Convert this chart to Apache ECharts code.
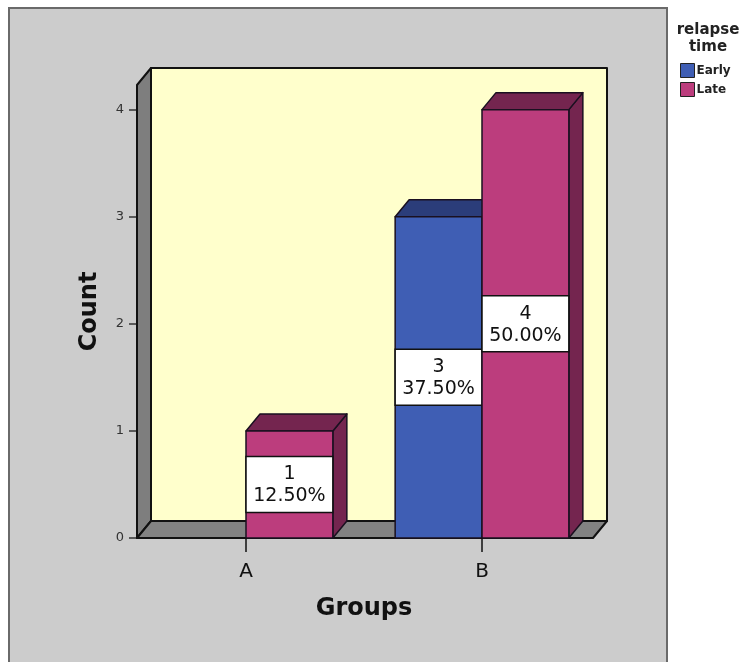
<!DOCTYPE html>
<html>
<head>
<meta charset="utf-8">
<script src="https://cdn.jsdelivr.net/npm/echarts@6/dist/echarts.min.js"></script>
<style>
  html, body { margin: 0; padding: 0; background: #ffffff; }
  #chart { width: 745px; height: 662px; }
</style>
</head>
<body>
<div id="chart"></div>
<script>
// Counts of relapse time per group
const categories = ['A', 'B'];
const seriesNames = ['Early', 'Late'];
const earlyCounts = [0, 3];
const lateCounts = [1, 4];
const yTicks = [0, 1, 2, 3, 4];

const FONT = '"DejaVu Sans", Arial, sans-serif';
const Y_MAX = 4.23;          // axis headroom above the top tick
const DEPTH = [14, -17];     // 3D extrusion offset in px
const BAR_FRAC = 0.368;      // bar width as a share of one category band

const faceColors = {
  Early: { front: '#3F5EB4', dark: '#2B3D7A' },
  Late:  { front: '#BC3D7D', dark: '#74254F' }
};

const total = earlyCounts.concat(lateCounts).reduce((a, b) => a + b, 0);

const chart = echarts.init(document.getElementById('chart'));

// Back wall, side wall and floor of the 3D frame
function renderFrame(params, api) {
  const r = params.coordSys;
  const left = r.x + 9;
  const right = r.x + r.width - 7;
  const top = r.y;
  const base = r.y + r.height;
  const [dx, dy] = DEPTH;
  const stroke = { stroke: '#111', lineWidth: 2, lineJoin: 'round' };
  return {
    type: 'group',
    children: [
      { type: 'rect', shape: { x: left + dx, y: top + dy, width: right - left, height: base - top },
        style: Object.assign({ fill: '#FFFFCC' }, stroke) },
      { type: 'polygon', shape: { points: [[left, base], [left, top], [left + dx, top + dy], [left + dx, base + dy]] },
        style: Object.assign({ fill: '#7E7E7E' }, stroke) },
      { type: 'polygon', shape: { points: [[left, base], [right, base], [right + dx, base + dy], [left + dx, base + dy]] },
        style: Object.assign({ fill: '#828282' }, stroke) }
    ]
  };
}

function makeBarRenderer(name, slot) {
  return function (params, api) {
    const cat = api.value(0);
    const v = api.value(1);
    if (!v) return null;
    const p0 = api.coord([cat, 0]);
    const p1 = api.coord([cat, v]);
    const band = api.size([1, 0])[0];
    const w = band * BAR_FRAC;
    const x0 = p0[0] + (slot === 0 ? -w : 0);
    const x1 = x0 + w;
    const yb = p0[1];
    const yt = p1[1];
    const [dx, dy] = DEPTH;
    const c = faceColors[name];
    const edge = { stroke: '#1a1020', lineWidth: 1.5, lineJoin: 'round' };
    const boxH = 56;
    const ym = (yt + yb) / 2;
    const pct = (v / total * 100).toFixed(2) + '%';
    return {
      type: 'group',
      children: [
        { type: 'polygon', shape: { points: [[x1, yt], [x1 + dx, yt + dy], [x1 + dx, yb + dy], [x1, yb]] },
          style: Object.assign({ fill: c.dark }, edge) },
        { type: 'polygon', shape: { points: [[x0, yt], [x0 + dx, yt + dy], [x1 + dx, yt + dy], [x1, yt]] },
          style: Object.assign({ fill: c.dark }, edge) },
        { type: 'rect', shape: { x: x0, y: yt, width: w, height: yb - yt },
          style: Object.assign({ fill: c.front }, edge) },
        { type: 'rect', shape: { x: x0, y: ym - boxH / 2, width: w, height: boxH },
          style: { fill: '#ffffff', stroke: '#111', lineWidth: 1.5 } },
        { type: 'text', x: x0 + w / 2, y: ym + 1,
          style: { text: v + '\n' + pct, fill: '#111', font: '19px ' + FONT,
                   align: 'center', verticalAlign: 'middle', lineHeight: 22 } }
      ]
    };
  };
}

const option = {
  animation: false,
  backgroundColor: '#ffffff',
  textStyle: { fontFamily: FONT },
  graphic: [
    { type: 'rect', z: -10, shape: { x: 9, y: 8, width: 658, height: 700 },
      style: { fill: '#CCCCCC', stroke: '#6A6A6A', lineWidth: 2 } },
    { type: 'text', z: 10, x: 708, y: 22,
      style: { text: 'relapse\ntime', font: 'bold 15px ' + FONT, fill: '#222',
               align: 'center', verticalAlign: 'top', lineHeight: 17 } }
  ],
  legend: {
    orient: 'vertical',
    left: 680,
    top: 63,
    padding: 0,
    itemWidth: 14,
    itemHeight: 14,
    itemGap: 4,
    icon: 'rect',
    itemStyle: { borderColor: '#222', borderWidth: 1 },
    textStyle: { fontFamily: FONT, fontWeight: 'bold', fontSize: 12, color: '#222', padding: [0, 0, 0, -3] },
    data: seriesNames
  },
  grid: { left: 128, right: 145, top: 85, bottom: 124, containLabel: false },
  xAxis: {
    type: 'category',
    data: categories,
    axisLine: { show: false },
    axisTick: { show: true, alignWithLabel: true, length: 14, lineStyle: { color: '#111', width: 1.5 } },
    axisLabel: { fontSize: 20, color: '#111', margin: 24, fontFamily: FONT },
    name: 'Groups',
    nameLocation: 'middle',
    nameGap: 59,
    nameTextStyle: { fontSize: 24, fontWeight: 'bold', color: '#111', fontFamily: FONT },
    z: 5
  },
  yAxis: {
    type: 'value',
    min: 0,
    max: Y_MAX,
    interval: 1,
    offset: -9,
    splitLine: { show: false },
    axisLine: { show: false },
    axisTick: { show: true, length: 8, lineStyle: { color: '#333', width: 1.5 } },
    axisLabel: {
      fontSize: 13, color: '#333', margin: 13, fontFamily: FONT, showMaxLabel: false,
      formatter: v => (yTicks.indexOf(v) >= 0 ? String(v) : '')
    },
    name: 'Count',
    nameLocation: 'middle',
    nameGap: 35,
    nameTextStyle: { fontSize: 24, fontWeight: 'bold', color: '#111', fontFamily: FONT }
  },
  series: [
    { type: 'custom', name: 'frame', silent: true, z: 1, renderItem: renderFrame, data: [[0, 0]] },
    { type: 'custom', name: 'Early', z: 3, itemStyle: { color: faceColors.Early.front },
      renderItem: makeBarRenderer('Early', 0),
      encode: { x: 0, y: 1 },
      data: categories.map((c, i) => [i, earlyCounts[i]]) },
    { type: 'custom', name: 'Late', z: 4, itemStyle: { color: faceColors.Late.front },
      renderItem: makeBarRenderer('Late', 1),
      encode: { x: 0, y: 1 },
      data: categories.map((c, i) => [i, lateCounts[i]]) }
  ]
};

chart.setOption(option);
</script>
</body>
</html>
